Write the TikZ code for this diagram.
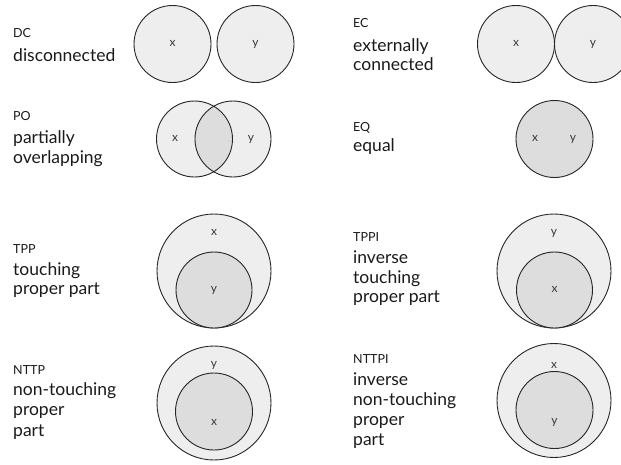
\documentclass[tikz,border=0pt]{standalone}
\usepackage{fontspec}
\setmainfont{Lato}
\begin{document}
\begin{tikzpicture}[x=1pt,y=-1pt,
  region/.style={draw=black!85,line width=0.9pt,fill=regionfill},
  part/.style={draw=black!85,line width=0.9pt,fill=partfill},
  code/.style={anchor=base west,inner sep=0pt,font=\fontsize{12.5}{14}\selectfont,text=textcol},
  desc/.style={anchor=base west,inner sep=0pt,font=\fontsize{17.5}{20}\selectfont,text=textcol},
  var/.style={anchor=mid,inner sep=0pt,font=\fontsize{12}{13}\selectfont,text=varcol}]
\definecolor{regionfill}{HTML}{EEEEEE}
\definecolor{partfill}{HTML}{DDDDDD}
\definecolor{textcol}{HTML}{1A1A1A}
\definecolor{varcol}{HTML}{3A3A3A}
\useasboundingbox (0,0) rectangle (621,464);
\clip (0,0) rectangle (621,464);

% ---- DC: disconnected
\node[code] (dc) at (13,37.5) {DC};
\node[desc] (dc1) at (13,61) {disconnected};
\draw[region] (172.5,44) circle[radius=38.5];
\draw[region] (255.5,44) circle[radius=38.5];
\node[var] (dcx) at (172.5,44) {x};
\node[var] (dcy) at (255.5,44) {y};

% ---- EC: externally connected
\node[code] (ec) at (353,27.5) {EC};
\node[desc] (ec1) at (353,51.5) {externally};
\node[desc] (ec2) at (353,70.5) {connected};
\draw[region] (516,44) circle[radius=38.5];
\draw[region] (593,44) circle[radius=38.5];
\node[var] (ecx) at (516,44) {x};
\node[var] (ecy) at (593,44) {y};

% ---- PO: partially overlapping
\node[code] (po) at (13,120) {PO};
\node[desc] (po1) at (13,143.3) {partially};
\node[desc] (po2) at (13,163.3) {overlapping};
\fill[regionfill] (194.5,139) circle[radius=38];
\fill[regionfill] (233,139) circle[radius=38];
\begin{scope}
  \clip (194.5,139) circle[radius=38];
  \fill[partfill] (233,139) circle[radius=38];
\end{scope}
\draw[draw=black!85,line width=0.9pt] (194.5,139) circle[radius=38];
\draw[draw=black!85,line width=0.9pt] (233,139) circle[radius=38];
\node[var] (pox) at (175,139) {x};
\node[var] (poy) at (251,139) {y};

% ---- EQ: equal
\node[code] (eq) at (353,131.7) {EQ};
\node[desc] (eq1) at (353,151.7) {equal};
\draw[part] (554.5,139) circle[radius=38.5];
\node[var] (eqx) at (535,139) {x};
\node[var] (eqy) at (573,139) {y};

% ---- TPP: touching proper part
\node[code] (tpp) at (13,253) {TPP};
\node[desc] (tpp1) at (13,275) {touching};
\node[desc] (tpp2) at (13,294.5) {proper part};
\draw[region] (214,271) circle[radius=57];
\draw[part] (214,290) circle[radius=38];
\node[var] (tppx) at (214,233) {x};
\node[var] (tppy) at (214,290) {y};

% ---- TPPI: inverse touching proper part
\node[code] (tppi) at (353,241) {TPPI};
\node[desc] (tppi1) at (353,263) {inverse};
\node[desc] (tppi2) at (353,283) {touching};
\node[desc] (tppi3) at (353,302.5) {proper part};
\draw[region] (554,271) circle[radius=57];
\draw[part] (554.5,290) circle[radius=38];
\node[var] (tppiy) at (554,233) {y};
\node[var] (tppix) at (554.5,290) {x};

% ---- NTTP: non-touching proper part
\node[code] (nttp) at (13,374) {NTTP};
\node[desc] (nttp1) at (13,395.5) {non-touching};
\node[desc] (nttp2) at (13,415.5) {proper};
\node[desc] (nttp3) at (13,436) {part};
\draw[region] (214,403) circle[radius=57];
\draw[part] (214,411.5) circle[radius=38.5];
\node[var] (nttpy) at (214,365) {y};
\node[var] (nttpx) at (214,423) {x};

% ---- NTTPI: inverse non-touching proper part
\node[code] (nttpi) at (353,363) {NTTPI};
\node[desc] (nttpi1) at (353,385) {inverse};
\node[desc] (nttpi2) at (353,405) {non-touching};
\node[desc] (nttpi3) at (353,425) {proper};
\node[desc] (nttpi4) at (353,445) {part};
\draw[region] (554,400.5) circle[radius=57];
\draw[part] (554.5,410) circle[radius=38.5];
\node[var] (nttpix) at (554,366) {x};
\node[var] (nttpiy) at (554.5,422) {y};
\end{tikzpicture}
\end{document}
